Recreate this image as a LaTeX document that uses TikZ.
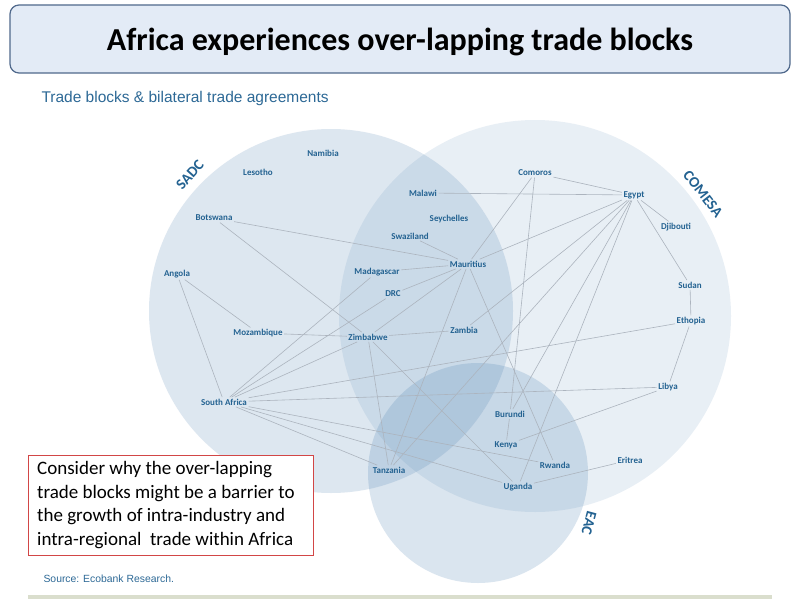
\documentclass[tikz,border=0pt]{standalone}
\usepackage{fontspec}
\setmainfont{Carlito}
\newfontfamily\arialf{Liberation Sans}
\definecolor{lbl}{RGB}{35,98,145}
\definecolor{circ}{RGB}{70,125,175}
\definecolor{edgec}{RGB}{172,180,190}
\definecolor{titlefill}{RGB}{227,235,246}
\definecolor{titledraw}{RGB}{80,105,140}
\definecolor{boxred}{RGB}{210,70,70}
\definecolor{srcc}{RGB}{45,105,150}
\definecolor{rulec}{RGB}{218,222,205}
\begin{document}
\begin{tikzpicture}[x=1pt,y=-1pt,
  cty/.style={font=\bfseries\fontsize{9}{10}\selectfont, text=lbl, inner sep=1.5pt},
  blk/.style={font=\bfseries\fontsize{15}{16}\selectfont, text=lbl, inner sep=0pt},
  tie/.style={draw=edgec, line width=0.6pt},
]
\useasboundingbox (0,0) rectangle (800,602);
\fill[white] (0,0) rectangle (800,602);
% title
\node[draw=titledraw, fill=titlefill, line width=1.2pt, rounded corners=9pt,
  minimum width=780pt, minimum height=68pt, inner sep=0pt] (titlebox) at (400,39) {};
\node[font=\bfseries\fontsize{32}{36}\selectfont] (title) at (400,42) {Africa experiences over-lapping trade blocks};
\node[anchor=west, font=\arialf\fontsize{15.5}{17}\selectfont, text=srcc] (sub) at (38,98) {Trade blocks \& bilateral trade agreements};
% circles
\fill[circ, fill opacity=0.18] (331,311) circle[radius=182];
\fill[circ, fill opacity=0.12] (535,316) circle[radius=196];
\fill[circ, fill opacity=0.2] (478,473) circle[radius=110];
% block labels
\node[blk, rotate=48] (sadc) at (190,175) {SADC};
\node[blk, rotate=-52] (comesa) at (703,194) {COMESA};
\node[blk, rotate=-105] (eac) at (589,523) {EAC};
% countries
\node[cty] (namibia) at (323,153) {Namibia};
\node[cty] (lesotho) at (258,172) {Lesotho};
\node[cty] (botswana) at (214,218) {Botswana};
\node[cty] (angola) at (177,274) {Angola};
\node[cty] (mozambique) at (258,333) {Mozambique};
\node[cty] (southafrica) at (224,402) {South Africa};
\node[cty] (malawi) at (423,193) {Malawi};
\node[cty] (seychelles) at (449,219) {Seychelles};
\node[cty] (swaziland) at (410,236) {Swaziland};
\node[cty] (madagascar) at (377,272) {Madagascar};
\node[cty] (mauritius) at (468,264) {Mauritius};
\node[cty] (drc) at (393,294) {DRC};
\node[cty] (zimbabwe) at (368,337) {Zimbabwe};
\node[cty] (zambia) at (464,330) {Zambia};
\node[cty] (tanzania) at (389,470) {Tanzania};
\node[cty] (comoros) at (535,173) {Comoros};
\node[cty] (egypt) at (634,195) {Egypt};
\node[cty] (djibouti) at (676,227) {Djibouti};
\node[cty] (sudan) at (690,285) {Sudan};
\node[cty] (ethiopia) at (691,321) {Ethopia};
\node[cty] (libya) at (668,387) {Libya};
\node[cty] (burundi) at (510,414) {Burundi};
\node[cty] (kenya) at (506,445) {Kenya};
\node[cty] (rwanda) at (555,465) {Rwanda};
\node[cty] (uganda) at (518,487) {Uganda};
\node[cty] (eritrea) at (630,460) {Eritrea};
% agreements
\draw[tie] (botswana) -- (mauritius);
\draw[tie] (botswana) -- (zimbabwe);
\draw[tie] (angola) -- (southafrica);
\draw[tie] (angola) -- (mozambique);
\draw[tie] (mozambique) -- (zimbabwe);
\draw[tie] (madagascar) -- (mauritius);
\draw[tie] (madagascar) -- (southafrica);
\draw[tie] (swaziland) -- (mauritius);
\draw[tie] (drc) -- (mauritius);
\draw[tie] (drc) -- (southafrica);
\draw[tie] (mauritius) -- (zimbabwe);
\draw[tie] (mauritius) -- (tanzania);
\draw[tie] (mauritius) -- (rwanda);
\draw[tie] (mauritius) -- (egypt);
\draw[tie] (comoros) -- (mauritius);
\draw[tie] (comoros) -- (burundi);
\draw[tie] (comoros) -- (egypt);
\draw[tie] (malawi) -- (egypt);
\draw[tie] (egypt) -- (djibouti);
\draw[tie] (egypt) -- (sudan);
\draw[tie] (egypt) -- (zambia);
\draw[tie] (egypt) -- (tanzania);
\draw[tie] (egypt) -- (burundi);
\draw[tie] (egypt) -- (uganda);
\draw[tie] (sudan) -- (ethiopia);
\draw[tie] (ethiopia) -- (libya);
\draw[tie] (ethiopia) -- (southafrica);
\draw[tie] (libya) -- (southafrica);
\draw[tie] (libya) -- (kenya);
\draw[tie] (burundi) -- (kenya);
\draw[tie] (eritrea) -- (uganda);
\draw[tie] (southafrica) -- (zimbabwe);
\draw[tie] (southafrica) -- (tanzania);
\draw[tie] (southafrica) -- (uganda);
\draw[tie] (southafrica) -- (rwanda);
\draw[tie] (zimbabwe) -- (zambia);
\draw[tie] (zimbabwe) -- (tanzania);
\draw[tie] (zimbabwe) -- (uganda);
% question box
\node[draw=boxred, line width=1pt, fill=white, anchor=north west,
  minimum width=285pt, minimum height=100pt, inner sep=0pt] (qbox) at (28,455) {};
\node[anchor=north west, align=left, inner sep=0pt,
  font=\fontsize{19}{23.7}\selectfont] (qtext) at (37,461) {Consider why the over-lapping\\trade blocks might be a barrier to\\the growth of intra-industry and\\intra-regional\ \ trade within Africa};
% source and rule
\node[anchor=west, font=\arialf\fontsize{10.4}{12}\selectfont, text=srcc] (src) at (40,579) {Source: Ecobank Research.};
\fill[rulec] (28,595) rectangle (772,599);
\end{tikzpicture}
\end{document}
